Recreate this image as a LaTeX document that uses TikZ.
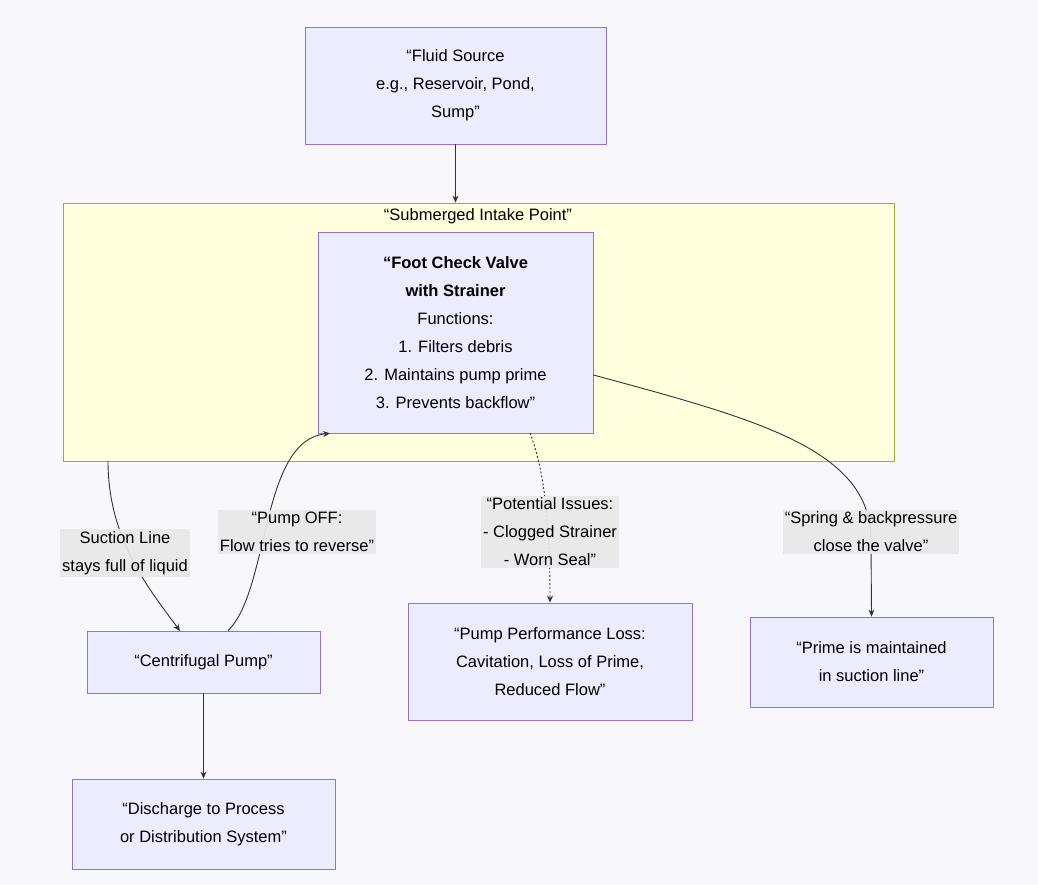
\documentclass[tikz,border=0pt]{standalone}
\usepackage{fontspec}
\setmainfont{Liberation Sans}
\usetikzlibrary{arrows.meta,positioning}
\definecolor{nodefill}{HTML}{ECECFF}
\definecolor{nodeline}{HTML}{9370DB}
\definecolor{clusterfill}{HTML}{FFFFDE}
\definecolor{clusterline}{HTML}{AAAA33}
\definecolor{labelfill}{HTML}{E8E8E8}
\definecolor{edgecol}{HTML}{333333}
\definecolor{bgcol}{HTML}{F8F8FC}
\begin{document}
\begin{tikzpicture}[x=1pt,y=-1pt,>={Stealth[length=7pt,width=6pt]},
    font=\fontsize{16.5}{28}\selectfont,
    box/.style={draw=nodeline,fill=nodefill,line width=0.8pt,align=center,
                inner sep=0pt},
    lbl/.style={fill=labelfill,fill opacity=0.9,text opacity=1,align=center,
                inner sep=2pt},
    flow/.style={->,draw=edgecol,line width=0.9pt}]
  \fill[bgcol] (0,0) rectangle (1038,885);

  % cluster
  \node[draw=clusterline,fill=clusterfill,line width=0.8pt,minimum width=831,
        minimum height=258,inner sep=0pt] (intake) at (478.5,332) {};
  \node (intaketitle) at (478,216) {“Submerged Intake Point”};

  \node[box,minimum width=301,minimum height=117] (source) at (455.5,85.5)
    {“Fluid Source\\e.g., Reservoir, Pond,\\Sump”};
  \node[box,minimum width=275,minimum height=201] (valve) at (455.5,332.5)
    {\textbf{“Foot Check Valve}\\\textbf{with Strainer}\\Functions:\\1. Filters debris\\2. Maintains pump prime\\3. Prevents backflow”};
  \node[box,minimum width=233,minimum height=62] (pump) at (203.5,662)
    {“Centrifugal Pump”};
  \node[box,minimum width=263,minimum height=90] (discharge) at (203.5,824)
    {“Discharge to Process\\or Distribution System”};
  \node[box,minimum width=284,minimum height=117] (loss) at (550,661.5)
    {“Pump Performance Loss:\\Cavitation, Loss of Prime,\\Reduced Flow”};
  \node[box,minimum width=243,minimum height=90] (prime) at (871.5,662)
    {“Prime is maintained\\in suction line”};

  \coordinate (cl) at (108,461);
  \coordinate (vb) at (530,433);

  \draw[flow] (source) -- (intake.north -| source);
  \draw[flow] (cl) .. controls (108,540) and (150,590) .. (180,631);
  \draw[flow] (pump.north -| 228,0) .. controls (270,590) and (260,440) .. (valve.south -| 330,0);
  \draw[flow,dash pattern=on 2pt off 2pt] (vb) .. controls (540,460) and (550,500) .. (loss.north);
  \draw[flow] (valve.east |- 0,375) .. controls (760,420) and (871,450) .. (871,540) -- (prime.north);
  \draw[flow] (pump) -- (discharge);

  \node[lbl] (suctionlbl) at (125,553) {Suction Line\\stays full of liquid};
  \node[lbl] (offlbl) at (297,532) {“Pump OFF:\\Flow tries to reverse”};
  \node[lbl] (issuelbl) at (550,532) {“Potential Issues:\\- Clogged Strainer\\- Worn Seal”};
  \node[lbl] (springlbl) at (871,532) {“Spring \& backpressure\\close the valve”};
\end{tikzpicture}
\end{document}
